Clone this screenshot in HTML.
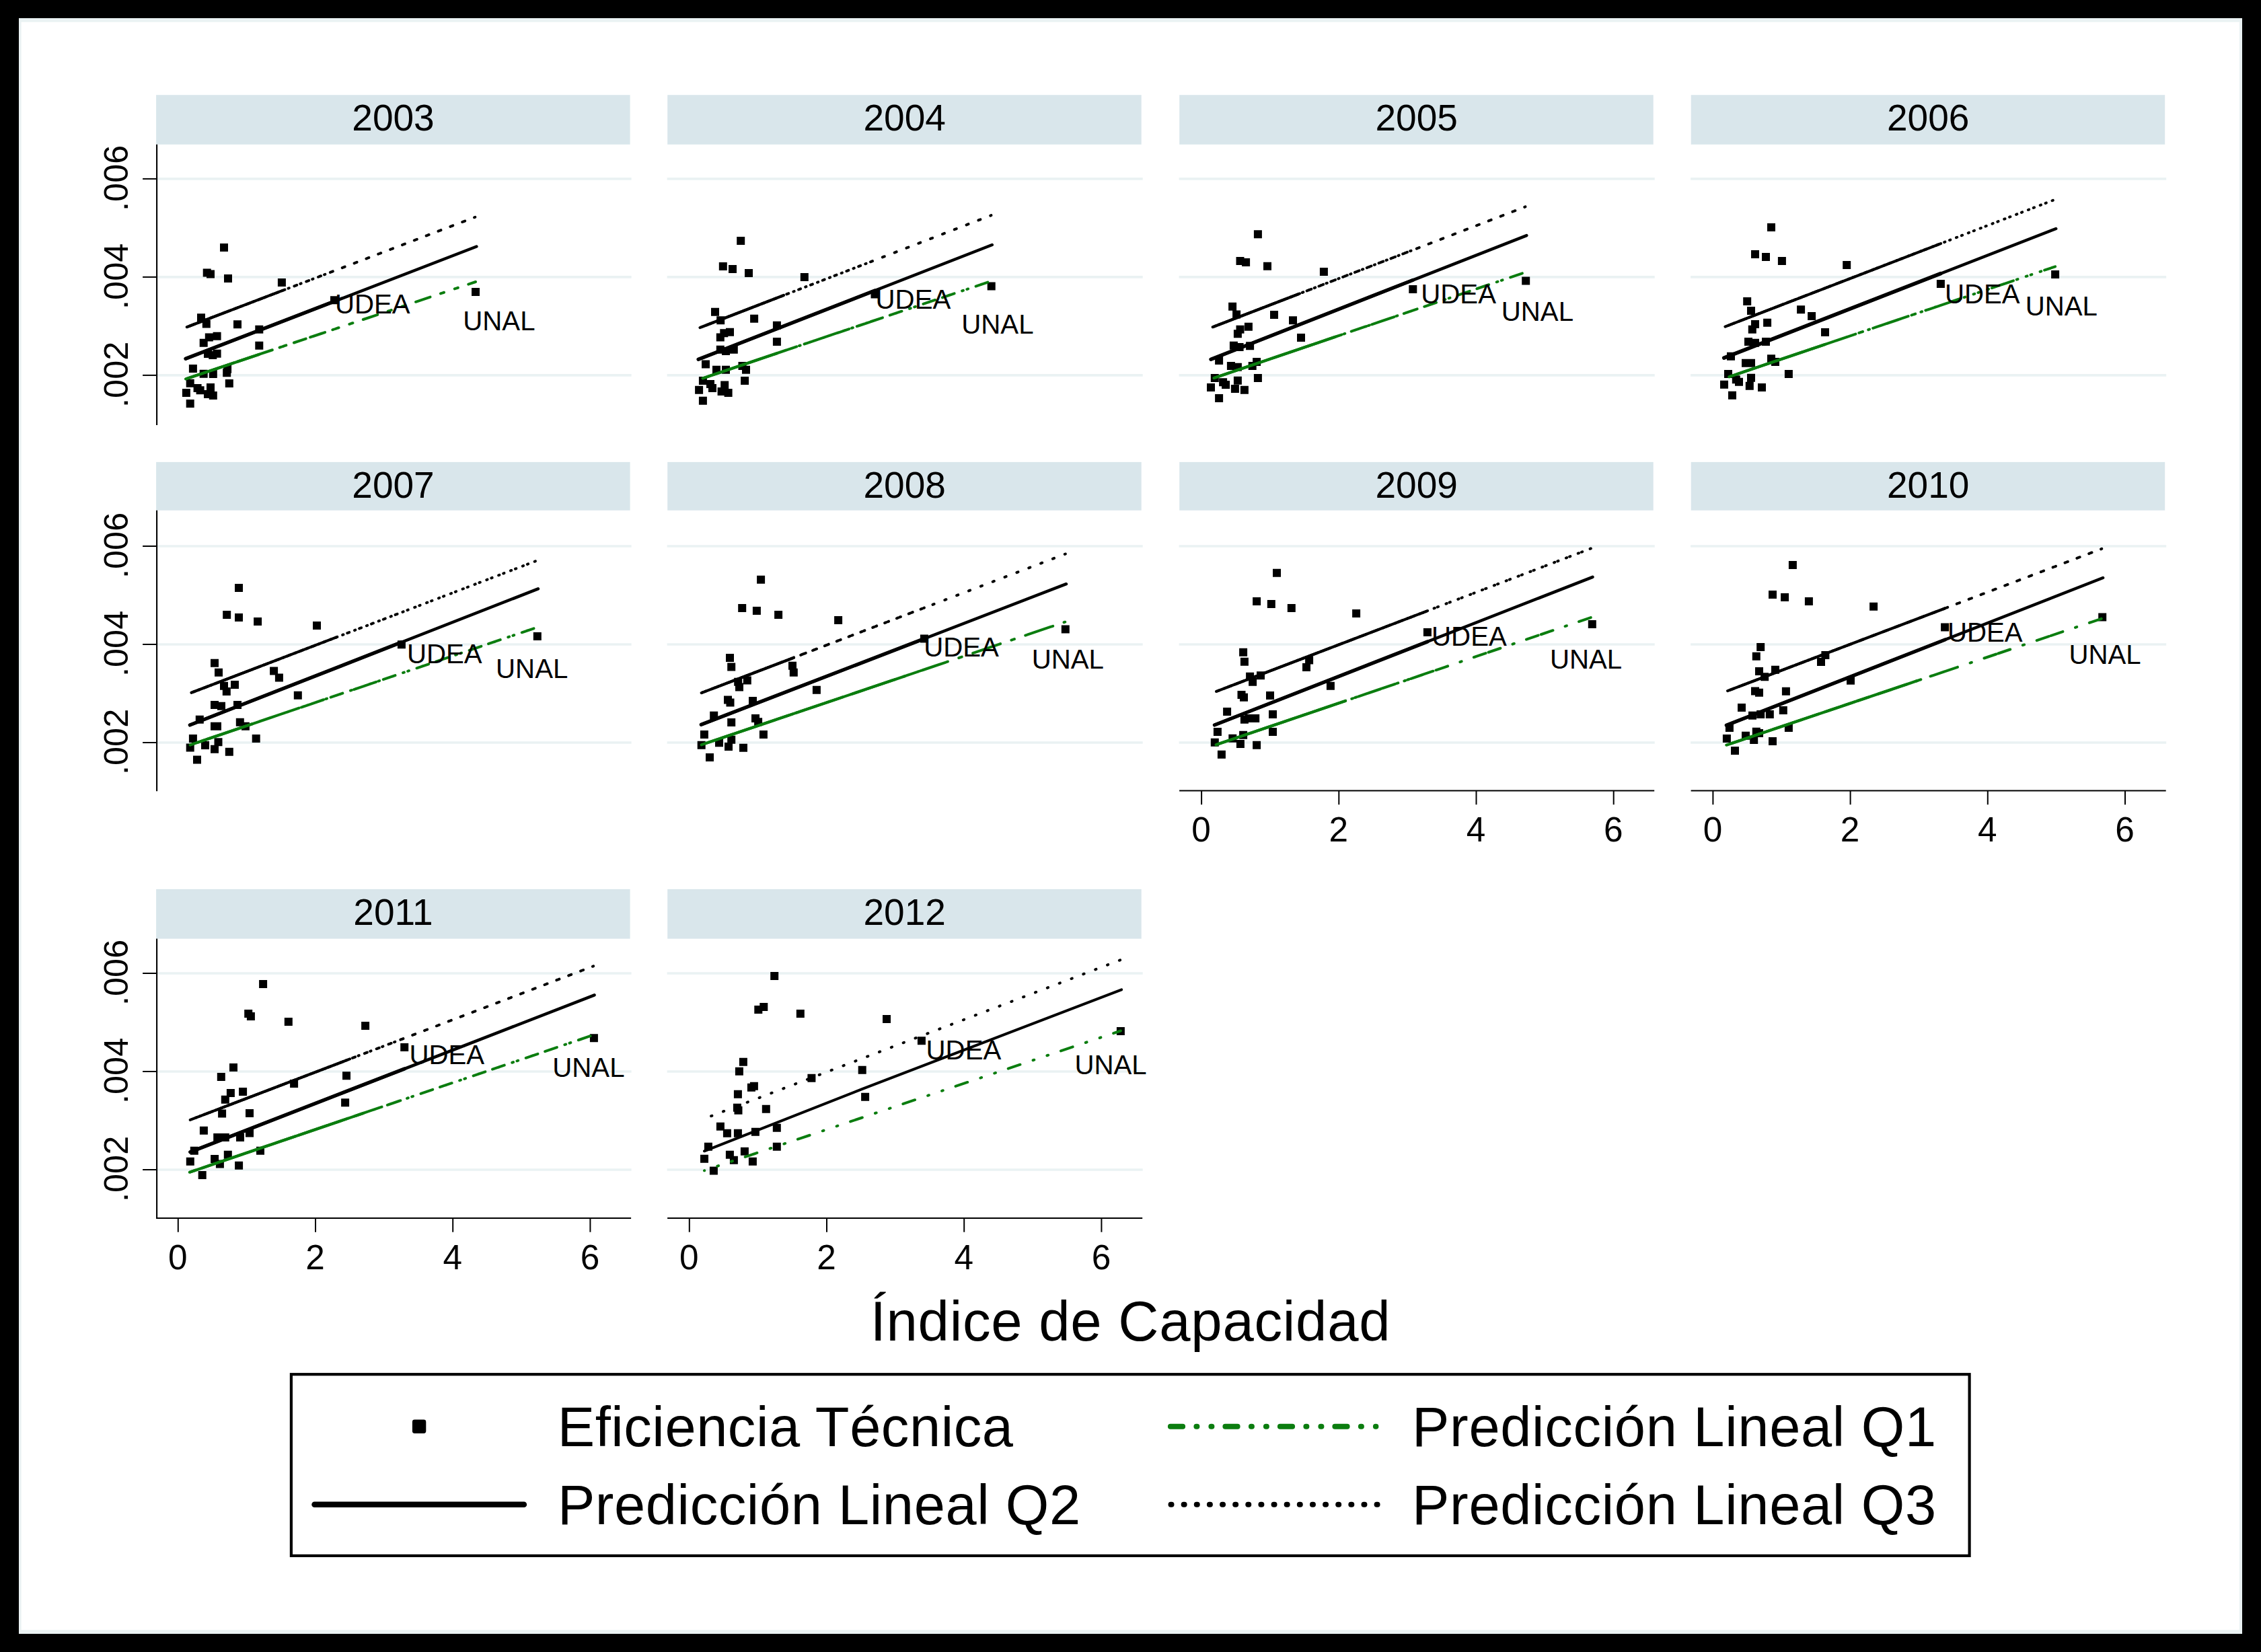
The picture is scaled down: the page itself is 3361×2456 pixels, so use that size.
<!DOCTYPE html><html><head><meta charset="utf-8"><title>Indice de Capacidad</title>
<style>html,body{margin:0;padding:0;background:#000;}svg{display:block;}text{font-family:"Liberation Sans", Arial, Helvetica, sans-serif;fill:#000;}</style></head><body>
<svg width="3361" height="2456" viewBox="0 0 3361 2456">
<rect x="0" y="0" width="3361" height="2456" fill="#000"/>
<rect x="28" y="27" width="3305" height="2402" fill="#eaf2f3"/>
<rect x="31.6" y="32.7" width="3297.2" height="2390.5" fill="#fff"/>
<g id="p2003">
<rect x="232.1" y="141.2" width="704.5" height="73.6" fill="#d9e6eb"/>
<text x="584.5" y="193.8" font-size="55" text-anchor="middle">2003</text>
<line x1="233.8" x2="938.6" y1="265.9" y2="265.9" stroke="#eaf2f3" stroke-width="3.6"/>
<line x1="233.8" x2="938.6" y1="411.9" y2="411.9" stroke="#eaf2f3" stroke-width="3.6"/>
<line x1="233.8" x2="938.6" y1="557.9" y2="557.9" stroke="#eaf2f3" stroke-width="3.6"/>
<line x1="233.1" x2="233.1" y1="214.8" y2="632.1" stroke="#000" stroke-width="2.1"/>
<line x1="212.1" x2="232.3" y1="265.9" y2="265.9" stroke="#000" stroke-width="2"/>
<text transform="translate(190.0,264.8) rotate(-90)" font-size="50.5" text-anchor="middle">.006</text>
<line x1="212.1" x2="232.3" y1="411.9" y2="411.9" stroke="#000" stroke-width="2"/>
<text transform="translate(190.0,410.8) rotate(-90)" font-size="50.5" text-anchor="middle">.004</text>
<line x1="212.1" x2="232.3" y1="557.9" y2="557.9" stroke="#000" stroke-width="2"/>
<text transform="translate(190.0,556.8) rotate(-90)" font-size="50.5" text-anchor="middle">.002</text>
<path d="M327.0 362.1h12v12h-12zM301.7 399.4h12v12h-12zM307.0 401.5h12v12h-12zM333.0 407.9h12v12h-12zM412.9 413.9h12v12h-12zM293.0 466.2h12v12h-12zM300.8 475.6h12v12h-12zM347.0 476.2h12v12h-12zM379.3 483.8h12v12h-12zM304.8 495.6h12v12h-12zM316.6 493.8h12v12h-12zM296.7 503.8h12v12h-12zM379.3 507.8h12v12h-12zM303.0 520.1h12v12h-12zM310.3 521.9h12v12h-12zM316.6 519.7h12v12h-12zM280.9 541.9h12v12h-12zM296.7 549.7h12v12h-12zM310.8 550.1h12v12h-12zM332.1 542.8h12v12h-12zM331.2 548.3h12v12h-12zM276.7 563.7h12v12h-12zM334.8 564.1h12v12h-12zM270.9 577.9h12v12h-12zM287.6 571.0h12v12h-12zM291.6 574.2h12v12h-12zM307.0 570.0h12v12h-12zM303.0 580.0h12v12h-12zM310.8 581.9h12v12h-12zM276.7 594.0h12v12h-12zM491.0 440.2h12v12h-12zM701.0 428.0h12v12h-12z" fill="#000"/>
<path d="M293.6 557.5 L353.0 537.6 L338.1 542.6 L313.0 551.0 L299.0 555.7 L286.9 559.7 L322.6 547.8 L337.2 542.9 L385.3 526.8 L385.3 526.8 L306.8 553.1 L282.7 561.2 L322.6 547.8 L497.0 489.4 L340.8 541.7 L707.0 419.0 L302.7 554.5 L297.6 556.2 L316.8 549.7 L316.3 549.9 L309.0 552.3 L302.7 554.5 L276.9 563.1 L310.8 551.7 L313.0 551.0 L309.0 552.3 L307.7 552.8 L282.7 561.2 L418.9 515.5 L316.8 549.7 L339.0 542.3 L333.0 544.3" fill="none" stroke="#0b7d0f" stroke-width="4.0" stroke-linecap="round" stroke-linejoin="round" stroke-dasharray="18.7 20.2 1.8 20.2 1.8 19.8" stroke-dashoffset="45.07"/>
<path d="M276.0 563.4 L385.0 526.9" fill="none" stroke="#0b7d0f" stroke-width="4.2" stroke-linecap="round"/>
<path d="M276.0 533.3 L708.4 366.5" fill="none" stroke="#000" stroke-width="4.5" stroke-linecap="round"/>
<path d="M276.0 533.3 L497.0 448.0" fill="none" stroke="#000" stroke-width="5.3" stroke-linecap="round"/>
<path d="M293.6 480.2 L353.0 457.5 L338.1 463.2 L313.0 472.8 L299.0 478.1 L286.9 482.7 L322.6 469.1 L337.2 463.5 L385.3 445.2 L385.3 445.2 L306.8 475.1 L282.7 484.3 L322.6 469.1 L497.0 402.6 L340.8 462.2 L707.0 322.5 L302.7 476.7 L297.6 478.6 L316.8 471.3 L316.3 471.5 L309.0 474.3 L302.7 476.7 L276.9 486.5 L310.8 473.6 L313.0 472.8 L309.0 474.3 L307.7 474.8 L282.7 484.3 L418.9 432.4 L316.8 471.3 L339.0 462.9 L333.0 465.1" fill="none" stroke="#000" stroke-width="4.0" stroke-linecap="round" stroke-linejoin="round" stroke-dasharray="1.3 17.8" stroke-dashoffset="10.20"/>
<path d="M277.8 486.2 L420.0 431.9" fill="none" stroke="#000" stroke-width="4.2" stroke-linecap="round"/>
<text x="498.0" y="465.7" font-size="40.2">UDEA</text>
<text x="688.3" y="490.9" font-size="40.2">UNAL</text>
</g>
<g id="p2004">
<rect x="992.2" y="141.2" width="704.5" height="73.6" fill="#d9e6eb"/>
<text x="1344.7" y="193.8" font-size="55" text-anchor="middle">2004</text>
<line x1="991.6" x2="1698.7" y1="265.9" y2="265.9" stroke="#eaf2f3" stroke-width="3.6"/>
<line x1="991.6" x2="1698.7" y1="411.9" y2="411.9" stroke="#eaf2f3" stroke-width="3.6"/>
<line x1="991.6" x2="1698.7" y1="557.9" y2="557.9" stroke="#eaf2f3" stroke-width="3.6"/>
<path d="M1095.2 352.1h12v12h-12zM1068.8 389.9h12v12h-12zM1083.0 393.9h12v12h-12zM1107.0 399.9h12v12h-12zM1189.8 406.1h12v12h-12zM1057.0 457.8h12v12h-12zM1065.2 470.2h12v12h-12zM1115.1 467.8h12v12h-12zM1148.9 477.8h12v12h-12zM1070.3 489.2h12v12h-12zM1079.0 487.8h12v12h-12zM1064.8 495.6h12v12h-12zM1148.9 502.0h12v12h-12zM1064.8 513.8h12v12h-12zM1073.0 516.1h12v12h-12zM1084.8 513.8h12v12h-12zM1043.0 535.5h12v12h-12zM1059.0 543.7h12v12h-12zM1073.0 543.7h12v12h-12zM1097.5 537.9h12v12h-12zM1103.0 543.7h12v12h-12zM1038.9 560.1h12v12h-12zM1101.1 560.1h12v12h-12zM1033.1 573.7h12v12h-12zM1050.0 565.0h12v12h-12zM1053.0 571.0h12v12h-12zM1071.2 566.4h12v12h-12zM1066.6 576.0h12v12h-12zM1076.6 577.9h12v12h-12zM1038.9 589.7h12v12h-12zM1294.5 431.5h12v12h-12zM1467.7 419.6h12v12h-12z" fill="#000"/>
<path d="M1082.6 549.6 L1044.9 562.3 L1090.8 546.8 L1065.0 555.5 L1103.5 542.5 L1076.3 551.7 L1121.1 536.6 L1056.0 558.5 L1063.0 556.2 L1079.0 550.8 L1079.0 550.8 L1154.9 525.2 L1154.9 525.2 L1089.0 547.4 L1101.2 543.3 L1473.7 417.8 L1085.0 548.8 L1071.2 553.4 L1109.0 540.7 L1070.8 553.5 L1059.0 557.5 L1049.0 560.9 L1107.1 541.3 L1195.8 511.4 L1300.5 476.2 L1077.2 551.4 L1072.6 552.9 L1113.0 539.3 L1070.8 553.5 L1074.8 552.2 L1039.1 564.2 L1044.9 562.3" fill="none" stroke="#0b7d0f" stroke-width="4.0" stroke-linecap="round" stroke-linejoin="round" stroke-dasharray="18.7 20.2 1.8 20.2 1.8 19.8" stroke-dashoffset="51.28"/>
<path d="M1044.5 562.4 L1155.0 525.2" fill="none" stroke="#0b7d0f" stroke-width="4.2" stroke-linecap="round"/>
<path d="M1038.1 534.3 L1474.8 364.0" fill="none" stroke="#000" stroke-width="4.5" stroke-linecap="round"/>
<path d="M1038.1 534.3 L1300.5 432.0" fill="none" stroke="#000" stroke-width="5.3" stroke-linecap="round"/>
<path d="M1082.6 470.8 L1044.9 485.4 L1090.8 467.7 L1065.0 477.6 L1103.5 462.8 L1076.3 473.2 L1121.1 456.0 L1056.0 481.1 L1063.0 478.4 L1079.0 472.2 L1079.0 472.2 L1154.9 442.9 L1154.9 442.9 L1089.0 468.3 L1101.2 463.6 L1473.7 320.0 L1085.0 469.9 L1071.2 475.2 L1109.0 460.6 L1070.8 475.4 L1059.0 479.9 L1049.0 483.8 L1107.1 461.4 L1195.8 427.2 L1300.5 386.8 L1077.2 472.9 L1072.6 474.7 L1113.0 459.1 L1070.8 475.4 L1074.8 473.8 L1039.1 487.6 L1044.9 485.4" fill="none" stroke="#000" stroke-width="4.0" stroke-linecap="round" stroke-linejoin="round" stroke-dasharray="1.3 17.8" stroke-dashoffset="4.96"/>
<path d="M1042.7 486.2 L1165.0 439.0" fill="none" stroke="#000" stroke-width="4.2" stroke-linecap="round"/>
<text x="1301.6" y="459.4" font-size="40.2">UDEA</text>
<text x="1429.3" y="495.7" font-size="40.2">UNAL</text>
</g>
<g id="p2005">
<rect x="1753.2" y="141.2" width="704.5" height="73.6" fill="#d9e6eb"/>
<text x="2105.7" y="193.8" font-size="55" text-anchor="middle">2005</text>
<line x1="1752.6" x2="2459.7" y1="265.9" y2="265.9" stroke="#eaf2f3" stroke-width="3.6"/>
<line x1="1752.6" x2="2459.7" y1="411.9" y2="411.9" stroke="#eaf2f3" stroke-width="3.6"/>
<line x1="1752.6" x2="2459.7" y1="557.9" y2="557.9" stroke="#eaf2f3" stroke-width="3.6"/>
<path d="M1863.9 342.2h12v12h-12zM1837.5 382.1h12v12h-12zM1846.1 383.9h12v12h-12zM1878.0 389.7h12v12h-12zM1961.9 398.1h12v12h-12zM1826.1 449.8h12v12h-12zM1832.1 461.6h12v12h-12zM1888.0 462.0h12v12h-12zM1916.0 470.2h12v12h-12zM1849.9 479.8h12v12h-12zM1837.5 483.8h12v12h-12zM1833.9 490.2h12v12h-12zM1928.0 496.1h12v12h-12zM1827.9 507.8h12v12h-12zM1836.6 510.1h12v12h-12zM1852.1 508.3h12v12h-12zM1806.1 530.1h12v12h-12zM1823.9 537.9h12v12h-12zM1833.9 539.7h12v12h-12zM1862.1 531.9h12v12h-12zM1855.7 537.9h12v12h-12zM1799.8 556.1h12v12h-12zM1863.9 556.1h12v12h-12zM1794.0 570.0h12v12h-12zM1812.1 562.2h12v12h-12zM1816.1 565.9h12v12h-12zM1833.9 559.7h12v12h-12zM1829.9 571.9h12v12h-12zM1843.9 573.7h12v12h-12zM1806.1 586.0h12v12h-12zM2094.3 424.0h12v12h-12zM2262.2 411.5h12v12h-12z" fill="#000"/>
<path d="M1869.9 539.9 L1894.0 531.7 L1868.1 540.5 L1838.1 550.7 L1832.1 552.7 L1812.1 559.5 L1869.9 539.9 L1822.1 556.1 L1858.1 543.9 L1967.9 506.6 L1839.9 550.1 L1839.9 550.1 L1829.9 553.5 L1842.6 549.2 L1843.5 548.8 L2268.2 404.5 L1805.8 561.7 L1800.0 563.6 L1934.0 518.1 L1849.9 546.7 L1835.9 551.4 L2100.3 461.6 L1852.1 545.9 L1839.9 550.1 L1833.9 552.1 L1884.0 535.1 L1922.0 522.2 L1855.9 544.6 L1861.7 542.7 L1812.1 559.5 L1818.1 557.5 L1843.5 548.8" fill="none" stroke="#0b7d0f" stroke-width="4.0" stroke-linecap="round" stroke-linejoin="round" stroke-dasharray="18.7 20.2 1.8 20.2 1.8 19.8" stroke-dashoffset="28.20"/>
<path d="M1804.5 562.1 L1985.0 500.8" fill="none" stroke="#0b7d0f" stroke-width="4.2" stroke-linecap="round"/>
<path d="M1800.0 534.3 L2269.3 350.1" fill="none" stroke="#000" stroke-width="4.5" stroke-linecap="round"/>
<path d="M1800.0 534.3 L2100.3 416.4" fill="none" stroke="#000" stroke-width="5.3" stroke-linecap="round"/>
<path d="M1869.9 460.3 L1894.0 451.1 L1868.1 461.0 L1838.1 472.6 L1832.1 474.9 L1812.1 482.6 L1869.9 460.3 L1822.1 478.7 L1858.1 464.9 L1967.9 422.6 L1839.9 471.9 L1839.9 471.9 L1829.9 475.7 L1842.6 470.8 L1843.5 470.5 L2268.2 307.1 L1805.8 485.0 L1800.0 487.2 L1934.0 435.7 L1849.9 468.0 L1835.9 473.4 L2100.3 371.7 L1852.1 467.2 L1839.9 471.9 L1833.9 474.2 L1884.0 454.9 L1922.0 440.3 L1855.9 465.7 L1861.7 463.5 L1812.1 482.6 L1818.1 480.3 L1843.5 470.5" fill="none" stroke="#000" stroke-width="4.0" stroke-linecap="round" stroke-linejoin="round" stroke-dasharray="1.3 17.8" stroke-dashoffset="13.99"/>
<path d="M1802.7 486.2 L1930.0 437.2" fill="none" stroke="#000" stroke-width="4.2" stroke-linecap="round"/>
<text x="2112.3" y="451.3" font-size="40.2">UDEA</text>
<text x="2231.8" y="477.3" font-size="40.2">UNAL</text>
</g>
<g id="p2006">
<rect x="2513.7" y="141.2" width="704.5" height="73.6" fill="#d9e6eb"/>
<text x="2866.2" y="193.8" font-size="55" text-anchor="middle">2006</text>
<line x1="2513.1" x2="3220.2" y1="265.9" y2="265.9" stroke="#eaf2f3" stroke-width="3.6"/>
<line x1="2513.1" x2="3220.2" y1="411.9" y2="411.9" stroke="#eaf2f3" stroke-width="3.6"/>
<line x1="2513.1" x2="3220.2" y1="557.9" y2="557.9" stroke="#eaf2f3" stroke-width="3.6"/>
<path d="M2627.0 332.1h12v12h-12zM2603.0 372.1h12v12h-12zM2619.0 376.1h12v12h-12zM2642.9 382.1h12v12h-12zM2739.2 388.1h12v12h-12zM2591.2 442.0h12v12h-12zM2597.0 456.0h12v12h-12zM2671.1 454.2h12v12h-12zM2687.1 464.1h12v12h-12zM2621.1 473.8h12v12h-12zM2603.0 475.9h12v12h-12zM2598.8 483.8h12v12h-12zM2707.0 487.9h12v12h-12zM2593.0 501.9h12v12h-12zM2603.0 503.7h12v12h-12zM2619.0 501.9h12v12h-12zM2567.0 523.7h12v12h-12zM2589.0 533.7h12v12h-12zM2597.0 533.7h12v12h-12zM2627.0 527.3h12v12h-12zM2633.0 531.9h12v12h-12zM2563.0 550.0h12v12h-12zM2652.9 550.0h12v12h-12zM2557.0 565.8h12v12h-12zM2574.8 558.2h12v12h-12zM2579.0 561.8h12v12h-12zM2597.0 555.8h12v12h-12zM2594.8 567.8h12v12h-12zM2613.0 570.0h12v12h-12zM2569.0 581.8h12v12h-12zM2878.9 416.1h12v12h-12zM3049.1 401.9h12v12h-12z" fill="#000"/>
<path d="M2625.0 541.7 L2595.0 551.9 L2599.0 550.5 L2580.8 556.7 L2639.0 537.0 L2633.0 539.0 L2585.0 555.2 L2693.1 518.7 L2609.0 547.1 L2600.8 549.9 L2609.0 547.1 L2677.1 524.1 L2603.0 549.1 L2627.1 541.0 L2563.0 562.7 L3055.1 396.3 L2625.0 541.7 L2604.8 548.5 L2569.0 560.6 L2609.0 547.1 L2745.2 501.1 L2658.9 530.3 L2619.0 543.7 L2603.0 549.1 L2575.0 558.6 L2573.0 559.3 L2713.0 512.0 L2633.0 539.0 L2648.9 533.6 L2597.2 551.1 L2884.9 453.9 L2603.0 549.1" fill="none" stroke="#0b7d0f" stroke-width="4.0" stroke-linecap="round" stroke-linejoin="round" stroke-dasharray="18.7 20.2 1.8 20.2 1.8 19.8" stroke-dashoffset="15.46"/>
<path d="M2570.9 560.0 L2713.0 512.0" fill="none" stroke="#0b7d0f" stroke-width="4.2" stroke-linecap="round"/>
<path d="M2562.7 532.1 L3056.2 340.0" fill="none" stroke="#000" stroke-width="4.5" stroke-linecap="round"/>
<path d="M2562.7 532.1 L2884.9 406.7" fill="none" stroke="#000" stroke-width="5.6" stroke-linecap="round"/>
<path d="M2625.0 462.3 L2595.0 473.8 L2599.0 472.3 L2580.8 479.3 L2639.0 456.9 L2633.0 459.2 L2585.0 477.7 L2693.1 436.0 L2609.0 468.4 L2600.8 471.6 L2609.0 468.4 L2677.1 442.2 L2603.0 470.8 L2627.1 461.5 L2563.0 486.2 L3055.1 296.5 L2625.0 462.3 L2604.8 470.1 L2569.0 483.9 L2609.0 468.4 L2745.2 415.9 L2658.9 449.2 L2619.0 464.6 L2603.0 470.8 L2575.0 481.6 L2573.0 482.3 L2713.0 428.4 L2633.0 459.2 L2648.9 453.1 L2597.2 473.0 L2884.9 362.1 L2603.0 470.8" fill="none" stroke="#000" stroke-width="4.0" stroke-linecap="round" stroke-linejoin="round" stroke-dasharray="1.3 17.8" stroke-dashoffset="15.04"/>
<path d="M2564.5 485.6 L2885.0 362.1" fill="none" stroke="#000" stroke-width="4.2" stroke-linecap="round"/>
<text x="2890.9" y="450.9" font-size="40.2">UDEA</text>
<text x="3010.7" y="469.3" font-size="40.2">UNAL</text>
</g>
<g id="p2007">
<rect x="232.1" y="686.9" width="704.5" height="71.9" fill="#d9e6eb"/>
<text x="584.5" y="739.5" font-size="55" text-anchor="middle">2007</text>
<line x1="233.8" x2="938.6" y1="812.0" y2="812.0" stroke="#eaf2f3" stroke-width="3.6"/>
<line x1="233.8" x2="938.6" y1="958.0" y2="958.0" stroke="#eaf2f3" stroke-width="3.6"/>
<line x1="233.8" x2="938.6" y1="1104.0" y2="1104.0" stroke="#eaf2f3" stroke-width="3.6"/>
<line x1="233.1" x2="233.1" y1="758.8" y2="1176.3" stroke="#000" stroke-width="2.1"/>
<line x1="212.1" x2="232.3" y1="812.0" y2="812.0" stroke="#000" stroke-width="2"/>
<text transform="translate(190.0,810.9) rotate(-90)" font-size="50.5" text-anchor="middle">.006</text>
<line x1="212.1" x2="232.3" y1="958.0" y2="958.0" stroke="#000" stroke-width="2"/>
<text transform="translate(190.0,956.9) rotate(-90)" font-size="50.5" text-anchor="middle">.004</text>
<line x1="212.1" x2="232.3" y1="1104.0" y2="1104.0" stroke="#000" stroke-width="2"/>
<text transform="translate(190.0,1102.9) rotate(-90)" font-size="50.5" text-anchor="middle">.002</text>
<path d="M349.0 868.0h12v12h-12zM331.2 907.9h12v12h-12zM349.0 912.1h12v12h-12zM377.1 917.9h12v12h-12zM465.0 923.9h12v12h-12zM313.0 979.8h12v12h-12zM319.0 993.8h12v12h-12zM401.1 991.6h12v12h-12zM408.9 1001.6h12v12h-12zM343.0 1012.0h12v12h-12zM327.0 1013.8h12v12h-12zM330.8 1022.0h12v12h-12zM436.8 1027.8h12v12h-12zM313.0 1041.9h12v12h-12zM323.0 1043.7h12v12h-12zM347.0 1041.9h12v12h-12zM290.8 1063.7h12v12h-12zM313.0 1073.7h12v12h-12zM317.0 1073.7h12v12h-12zM350.8 1067.7h12v12h-12zM358.9 1073.7h12v12h-12zM280.9 1091.9h12v12h-12zM374.7 1091.9h12v12h-12zM276.7 1105.5h12v12h-12zM299.0 1101.9h12v12h-12zM318.5 1097.3h12v12h-12zM313.0 1107.8h12v12h-12zM334.8 1111.8h12v12h-12zM287.0 1123.6h12v12h-12zM590.9 952.2h12v12h-12zM792.8 940.0h12v12h-12z" fill="#000"/>
<path d="M596.9 1001.0 L353.0 1083.7 L383.1 1073.5 L333.0 1090.4 L337.2 1089.0 L380.7 1074.3 L319.0 1095.2 L356.8 1082.4 L407.1 1065.3 L319.0 1095.2 L319.0 1095.2 L323.0 1093.8 L305.0 1099.9 L282.7 1107.5 L442.8 1053.2 L798.8 932.5 L364.9 1079.6 L336.8 1089.2 L286.9 1106.1 L319.0 1095.2 L355.0 1083.0 L340.8 1087.8 L471.0 1043.7 L349.0 1085.0 L325.0 1093.2 L355.0 1083.0 L293.0 1104.0 L324.5 1093.3 L414.9 1062.7 L296.8 1102.7 L329.0 1091.8" fill="none" stroke="#0b7d0f" stroke-width="4.0" stroke-linecap="round" stroke-linejoin="round" stroke-dasharray="18.7 20.2 1.8 20.2 1.8 19.8" stroke-dashoffset="26.31"/>
<path d="M282.7 1107.5 L375.0 1076.2" fill="none" stroke="#0b7d0f" stroke-width="4.2" stroke-linecap="round"/>
<path d="M282.3 1077.9 L799.9 875.4" fill="none" stroke="#000" stroke-width="4.5" stroke-linecap="round"/>
<path d="M282.3 1077.9 L596.9 954.8" fill="none" stroke="#000" stroke-width="5.3" stroke-linecap="round"/>
<path d="M596.9 910.4 L353.0 1003.6 L383.1 992.1 L333.0 1011.3 L337.2 1009.7 L380.7 993.0 L319.0 1016.6 L356.8 1002.2 L407.1 982.9 L319.0 1016.6 L319.0 1016.6 L323.0 1015.1 L305.0 1022.0 L282.7 1030.5 L442.8 969.3 L798.8 833.2 L364.9 999.1 L336.8 1009.8 L286.9 1028.9 L319.0 1016.6 L355.0 1002.9 L340.8 1008.3 L471.0 958.5 L349.0 1005.1 L325.0 1014.3 L355.0 1002.9 L293.0 1026.6 L324.5 1014.5 L414.9 980.0 L296.8 1025.1 L329.0 1012.8" fill="none" stroke="#000" stroke-width="4.0" stroke-linecap="round" stroke-linejoin="round" stroke-dasharray="1.3 17.8" stroke-dashoffset="12.32"/>
<path d="M284.5 1029.8 L500.0 947.4" fill="none" stroke="#000" stroke-width="4.2" stroke-linecap="round"/>
<text x="604.9" y="986.2" font-size="40.2">UDEA</text>
<text x="737.1" y="1007.7" font-size="40.2">UNAL</text>
</g>
<g id="p2008">
<rect x="992.2" y="686.9" width="704.5" height="71.9" fill="#d9e6eb"/>
<text x="1344.7" y="739.5" font-size="55" text-anchor="middle">2008</text>
<line x1="991.6" x2="1698.7" y1="812.0" y2="812.0" stroke="#eaf2f3" stroke-width="3.6"/>
<line x1="991.6" x2="1698.7" y1="958.0" y2="958.0" stroke="#eaf2f3" stroke-width="3.6"/>
<line x1="991.6" x2="1698.7" y1="1104.0" y2="1104.0" stroke="#eaf2f3" stroke-width="3.6"/>
<path d="M1125.1 855.8h12v12h-12zM1097.2 897.9h12v12h-12zM1118.9 902.1h12v12h-12zM1151.1 907.9h12v12h-12zM1240.1 916.1h12v12h-12zM1079.0 972.0h12v12h-12zM1081.2 985.6h12v12h-12zM1172.0 983.8h12v12h-12zM1173.8 993.8h12v12h-12zM1104.8 1005.6h12v12h-12zM1091.2 1007.8h12v12h-12zM1093.0 1015.6h12v12h-12zM1207.9 1019.8h12v12h-12zM1076.0 1034.5h12v12h-12zM1079.5 1038.5h12v12h-12zM1113.0 1035.9h12v12h-12zM1055.2 1057.7h12v12h-12zM1081.2 1067.9h12v12h-12zM1117.0 1061.9h12v12h-12zM1121.1 1067.3h12v12h-12zM1040.9 1086.0h12v12h-12zM1128.9 1086.0h12v12h-12zM1036.7 1101.8h12v12h-12zM1063.0 1098.2h12v12h-12zM1081.2 1093.7h12v12h-12zM1077.0 1104.0h12v12h-12zM1099.0 1105.8h12v12h-12zM1049.0 1120.0h12v12h-12zM1367.9 943.4h12v12h-12zM1577.8 929.6h12v12h-12z" fill="#000"/>
<path d="M1124.9 1079.5 L1085.5 1092.8 L1110.8 1084.3 L1178.0 1061.6 L1061.2 1101.1 L1213.9 1049.5 L1131.1 1077.4 L1246.1 1038.6 L1097.2 1088.9 L1103.2 1086.9 L1042.7 1107.3 L1083.0 1093.7 L1119.0 1081.5 L1069.0 1098.4 L1583.8 924.5 L1085.0 1093.0 L1105.0 1086.3 L1157.1 1068.7 L1087.2 1092.3 L1373.9 995.4 L1127.1 1078.8 L1082.0 1094.0 L1087.2 1092.3 L1046.9 1105.9 L1055.0 1103.1 L1179.8 1061.0 L1087.2 1092.3 L1123.0 1080.2 L1134.9 1076.2 L1099.0 1088.3" fill="none" stroke="#0b7d0f" stroke-width="4.0" stroke-linecap="round" stroke-linejoin="round" stroke-dasharray="18.7 20.2 1.8 20.2 1.8 19.8" stroke-dashoffset="72.32"/>
<path d="M1042.7 1107.3 L1345.0 1005.2" fill="none" stroke="#0b7d0f" stroke-width="4.2" stroke-linecap="round"/>
<path d="M1042.3 1077.3 L1585.0 868.2" fill="none" stroke="#000" stroke-width="4.5" stroke-linecap="round"/>
<path d="M1042.3 1077.3 L1373.9 949.5" fill="none" stroke="#000" stroke-width="5.3" stroke-linecap="round"/>
<path d="M1124.9 998.7 L1085.5 1013.8 L1110.8 1004.1 L1178.0 978.4 L1061.2 1023.0 L1213.9 964.7 L1131.1 996.3 L1246.1 952.4 L1097.2 1009.3 L1103.2 1007.0 L1042.7 1030.1 L1083.0 1014.7 L1119.0 1001.0 L1069.0 1020.1 L1583.8 823.5 L1085.0 1013.9 L1105.0 1006.3 L1157.1 986.4 L1087.2 1013.1 L1373.9 903.6 L1127.1 997.9 L1082.0 1015.1 L1087.2 1013.1 L1046.9 1028.5 L1055.0 1025.4 L1179.8 977.8 L1087.2 1013.1 L1123.0 999.4 L1134.9 994.9 L1099.0 1008.6" fill="none" stroke="#000" stroke-width="4.0" stroke-linecap="round" stroke-linejoin="round" stroke-dasharray="1.3 17.8" stroke-dashoffset="9.05"/>
<path d="M1042.7 1030.1 L1180.0 977.7" fill="none" stroke="#000" stroke-width="4.2" stroke-linecap="round"/>
<text x="1373.2" y="976.3" font-size="40.2">UDEA</text>
<text x="1533.7" y="994.2" font-size="40.2">UNAL</text>
</g>
<g id="p2009">
<rect x="1753.2" y="686.9" width="704.5" height="71.9" fill="#d9e6eb"/>
<text x="2105.7" y="739.5" font-size="55" text-anchor="middle">2009</text>
<line x1="1752.6" x2="2459.7" y1="812.0" y2="812.0" stroke="#eaf2f3" stroke-width="3.6"/>
<line x1="1752.6" x2="2459.7" y1="958.0" y2="958.0" stroke="#eaf2f3" stroke-width="3.6"/>
<line x1="1752.6" x2="2459.7" y1="1104.0" y2="1104.0" stroke="#eaf2f3" stroke-width="3.6"/>
<line x1="1753.1" x2="2459.2" y1="1175.5" y2="1175.5" stroke="#000" stroke-width="2.1"/>
<line x1="1786.1" x2="1786.1" y1="1175.5" y2="1196.2" stroke="#000" stroke-width="2"/>
<text x="1785.6" y="1250.7" font-size="51.3" text-anchor="middle">0</text>
<line x1="1990.3" x2="1990.3" y1="1175.5" y2="1196.2" stroke="#000" stroke-width="2"/>
<text x="1989.8" y="1250.7" font-size="51.3" text-anchor="middle">2</text>
<line x1="2194.5" x2="2194.5" y1="1175.5" y2="1196.2" stroke="#000" stroke-width="2"/>
<text x="2194.0" y="1250.7" font-size="51.3" text-anchor="middle">4</text>
<line x1="2398.7" x2="2398.7" y1="1175.5" y2="1196.2" stroke="#000" stroke-width="2"/>
<text x="2398.2" y="1250.7" font-size="51.3" text-anchor="middle">6</text>
<path d="M1892.0 845.8h12v12h-12zM1862.1 887.9h12v12h-12zM1883.8 892.1h12v12h-12zM1913.8 897.9h12v12h-12zM2010.1 906.1h12v12h-12zM1842.1 963.8h12v12h-12zM1843.9 977.8h12v12h-12zM1940.1 975.6h12v12h-12zM1936.0 986.0h12v12h-12zM1868.0 998.3h12v12h-12zM1852.1 999.8h12v12h-12zM1856.1 1007.8h12v12h-12zM1971.9 1013.8h12v12h-12zM1839.5 1027.0h12v12h-12zM1843.0 1030.8h12v12h-12zM1882.0 1027.9h12v12h-12zM1818.1 1051.9h12v12h-12zM1843.9 1063.7h12v12h-12zM1850.3 1061.9h12v12h-12zM1860.2 1061.9h12v12h-12zM1886.0 1055.9h12v12h-12zM1803.9 1081.9h12v12h-12zM1886.0 1081.9h12v12h-12zM1799.8 1097.8h12v12h-12zM1826.3 1091.8h12v12h-12zM1842.1 1086.8h12v12h-12zM1837.9 1100.0h12v12h-12zM1862.1 1101.8h12v12h-12zM1809.9 1115.8h12v12h-12zM2115.9 934.0h12v12h-12zM2360.8 922.0h12v12h-12z" fill="#000"/>
<path d="M1849.0 1093.2 L1898.0 1076.6 L1809.9 1106.5 L1892.0 1078.6 L1824.1 1101.7 L1858.1 1090.2 L1919.8 1069.2 L1848.1 1093.5 L1868.1 1086.8 L1862.1 1088.8 L1815.9 1104.5 L1848.1 1093.5 L1832.3 1098.9 L2121.9 1000.6 L1856.3 1090.8 L2366.8 917.4 L1888.0 1080.0 L1868.1 1086.8 L1977.9 1049.5 L1866.2 1087.4 L1942.0 1061.7 L1843.9 1095.0 L1849.9 1092.9 L1849.9 1092.9 L1946.1 1060.3 L1845.5 1094.4 L1805.8 1107.9 L1874.0 1084.8 L2016.1 1036.5 L1889.8 1079.4 L1892.0 1078.6" fill="none" stroke="#0b7d0f" stroke-width="4.0" stroke-linecap="round" stroke-linejoin="round" stroke-dasharray="18.7 20.2 1.8 20.2 1.8 19.8" stroke-dashoffset="20.98"/>
<path d="M1807.6 1107.3 L2000.0 1042.0" fill="none" stroke="#0b7d0f" stroke-width="4.2" stroke-linecap="round"/>
<path d="M1805.4 1077.9 L2367.5 857.8" fill="none" stroke="#000" stroke-width="4.5" stroke-linecap="round"/>
<path d="M1805.4 1077.9 L2121.9 954.0" fill="none" stroke="#000" stroke-width="5.3" stroke-linecap="round"/>
<path d="M1849.0 1012.3 L1898.0 993.6 L1809.9 1027.3 L1892.0 995.9 L1824.1 1021.8 L1858.1 1008.9 L1919.8 985.3 L1848.1 1012.7 L1868.1 1005.0 L1862.1 1007.3 L1815.9 1025.0 L1848.1 1012.7 L1832.3 1018.7 L2121.9 908.2 L1856.3 1009.5 L2366.8 814.7 L1888.0 997.4 L1868.1 1005.0 L1977.9 963.1 L1866.2 1005.8 L1942.0 976.8 L1843.9 1014.3 L1849.9 1012.0 L1849.9 1012.0 L1946.1 975.3 L1845.5 1013.7 L1805.8 1028.8 L1874.0 1002.8 L2016.1 948.6 L1889.8 996.8 L1892.0 995.9" fill="none" stroke="#000" stroke-width="4.0" stroke-linecap="round" stroke-linejoin="round" stroke-dasharray="1.3 17.8" stroke-dashoffset="4.78"/>
<path d="M1809.0 1027.6 L2122.0 908.1" fill="none" stroke="#000" stroke-width="4.2" stroke-linecap="round"/>
<text x="2128.1" y="959.7" font-size="40.2">UDEA</text>
<text x="2304.0" y="994.2" font-size="40.2">UNAL</text>
</g>
<g id="p2010">
<rect x="2513.7" y="686.9" width="704.5" height="71.9" fill="#d9e6eb"/>
<text x="2866.2" y="739.5" font-size="55" text-anchor="middle">2010</text>
<line x1="2513.1" x2="3220.2" y1="812.0" y2="812.0" stroke="#eaf2f3" stroke-width="3.6"/>
<line x1="2513.1" x2="3220.2" y1="958.0" y2="958.0" stroke="#eaf2f3" stroke-width="3.6"/>
<line x1="2513.1" x2="3220.2" y1="1104.0" y2="1104.0" stroke="#eaf2f3" stroke-width="3.6"/>
<line x1="2513.6" x2="3219.7" y1="1175.5" y2="1175.5" stroke="#000" stroke-width="2.1"/>
<line x1="2546.4" x2="2546.4" y1="1175.5" y2="1196.2" stroke="#000" stroke-width="2"/>
<text x="2545.9" y="1250.7" font-size="51.3" text-anchor="middle">0</text>
<line x1="2750.6" x2="2750.6" y1="1175.5" y2="1196.2" stroke="#000" stroke-width="2"/>
<text x="2750.1" y="1250.7" font-size="51.3" text-anchor="middle">2</text>
<line x1="2954.8" x2="2954.8" y1="1175.5" y2="1196.2" stroke="#000" stroke-width="2"/>
<text x="2954.3" y="1250.7" font-size="51.3" text-anchor="middle">4</text>
<line x1="3159.0" x2="3159.0" y1="1175.5" y2="1196.2" stroke="#000" stroke-width="2"/>
<text x="3158.5" y="1250.7" font-size="51.3" text-anchor="middle">6</text>
<path d="M2658.9 833.9h12v12h-12zM2629.0 878.0h12v12h-12zM2647.1 882.0h12v12h-12zM2682.9 888.0h12v12h-12zM2779.1 895.8h12v12h-12zM2611.2 956.1h12v12h-12zM2604.8 969.7h12v12h-12zM2707.4 967.9h12v12h-12zM2701.0 977.9h12v12h-12zM2633.0 989.7h12v12h-12zM2609.0 991.9h12v12h-12zM2617.2 1000.2h12v12h-12zM2745.0 1005.7h12v12h-12zM2603.0 1021.5h12v12h-12zM2609.0 1023.8h12v12h-12zM2648.9 1021.8h12v12h-12zM2583.0 1046.0h12v12h-12zM2599.0 1057.8h12v12h-12zM2611.2 1056.0h12v12h-12zM2624.8 1056.0h12v12h-12zM2644.8 1050.0h12v12h-12zM2564.9 1075.9h12v12h-12zM2652.9 1075.9h12v12h-12zM2560.9 1091.9h12v12h-12zM2589.0 1087.7h12v12h-12zM2604.8 1081.8h12v12h-12zM2609.0 1084.1h12v12h-12zM2601.2 1094.1h12v12h-12zM2629.0 1095.9h12v12h-12zM2573.0 1109.9h12v12h-12zM2885.1 926.6h12v12h-12zM3119.2 911.6h12v12h-12z" fill="#000"/>
<path d="M2658.9 1076.5 L2615.0 1091.3 L2566.9 1107.5 L2688.9 1066.4 L2589.0 1100.0 L2609.0 1093.3 L2891.1 998.2 L2654.9 1077.8 L2650.8 1079.2 L2639.0 1083.2 L2623.2 1088.5 L2664.9 1074.5 L2610.8 1092.7 L2617.2 1090.5 L2707.0 1060.3 L3125.2 919.3 L2635.0 1084.5 L2630.8 1086.0 L2751.0 1045.4 L2595.0 1098.0 L2615.0 1091.3 L2610.8 1092.7 L2607.2 1093.9 L2579.0 1103.4 L2653.1 1078.4 L2635.0 1084.5 L2713.4 1058.1 L2785.1 1033.9 L2617.2 1090.5 L2605.0 1094.7 L2615.0 1091.3 L2570.9 1106.1" fill="none" stroke="#0b7d0f" stroke-width="4.0" stroke-linecap="round" stroke-linejoin="round" stroke-dasharray="18.7 20.2 1.8 20.2 1.8 19.8" stroke-dashoffset="11.15"/>
<path d="M2566.3 1107.7 L2850.0 1012.1" fill="none" stroke="#0b7d0f" stroke-width="4.2" stroke-linecap="round"/>
<path d="M2566.3 1078.3 L3126.1 859.0" fill="none" stroke="#000" stroke-width="4.5" stroke-linecap="round"/>
<path d="M2566.3 1078.3 L2891.1 951.1" fill="none" stroke="#000" stroke-width="5.3" stroke-linecap="round"/>
<path d="M2658.9 992.6 L2615.0 1009.3 L2566.9 1027.6 L2688.9 981.2 L2589.0 1019.2 L2609.0 1011.6 L2891.1 904.4 L2654.9 994.1 L2650.8 995.7 L2639.0 1000.2 L2623.2 1006.2 L2664.9 990.3 L2610.8 1010.9 L2617.2 1008.5 L2707.0 974.3 L3125.2 815.5 L2635.0 1001.7 L2630.8 1003.3 L2751.0 957.6 L2595.0 1016.9 L2615.0 1009.3 L2610.8 1010.9 L2607.2 1012.2 L2579.0 1023.0 L2653.1 994.8 L2635.0 1001.7 L2713.4 971.9 L2785.1 944.7 L2617.2 1008.5 L2605.0 1013.1 L2615.0 1009.3 L2570.9 1026.0" fill="none" stroke="#000" stroke-width="4.0" stroke-linecap="round" stroke-linejoin="round" stroke-dasharray="1.3 17.8" stroke-dashoffset="8.31"/>
<path d="M2568.1 1027.1 L2891.0 904.5" fill="none" stroke="#000" stroke-width="4.2" stroke-linecap="round"/>
<text x="2895.0" y="953.8" font-size="40.2">UDEA</text>
<text x="3075.5" y="986.6" font-size="40.2">UNAL</text>
</g>
<g id="p2011">
<rect x="232.1" y="1321.9" width="704.5" height="73.7" fill="#d9e6eb"/>
<text x="584.5" y="1374.5" font-size="55" text-anchor="middle">2011</text>
<line x1="233.8" x2="938.6" y1="1447.0" y2="1447.0" stroke="#eaf2f3" stroke-width="3.6"/>
<line x1="233.8" x2="938.6" y1="1593.0" y2="1593.0" stroke="#eaf2f3" stroke-width="3.6"/>
<line x1="233.8" x2="938.6" y1="1739.0" y2="1739.0" stroke="#eaf2f3" stroke-width="3.6"/>
<line x1="233.1" x2="233.1" y1="1395.6" y2="1812.0" stroke="#000" stroke-width="2.1"/>
<line x1="212.1" x2="232.3" y1="1447.0" y2="1447.0" stroke="#000" stroke-width="2"/>
<text transform="translate(190.0,1445.9) rotate(-90)" font-size="50.5" text-anchor="middle">.006</text>
<line x1="212.1" x2="232.3" y1="1593.0" y2="1593.0" stroke="#000" stroke-width="2"/>
<text transform="translate(190.0,1591.9) rotate(-90)" font-size="50.5" text-anchor="middle">.004</text>
<line x1="212.1" x2="232.3" y1="1739.0" y2="1739.0" stroke="#000" stroke-width="2"/>
<text transform="translate(190.0,1737.9) rotate(-90)" font-size="50.5" text-anchor="middle">.002</text>
<line x1="232.0" x2="938.1" y1="1811.0" y2="1811.0" stroke="#000" stroke-width="2.1"/>
<line x1="264.8" x2="264.8" y1="1811.0" y2="1831.7" stroke="#000" stroke-width="2"/>
<text x="264.3" y="1886.9" font-size="51.3" text-anchor="middle">0</text>
<line x1="469.0" x2="469.0" y1="1811.0" y2="1831.7" stroke="#000" stroke-width="2"/>
<text x="468.5" y="1886.9" font-size="51.3" text-anchor="middle">2</text>
<line x1="673.2" x2="673.2" y1="1811.0" y2="1831.7" stroke="#000" stroke-width="2"/>
<text x="672.7" y="1886.9" font-size="51.3" text-anchor="middle">4</text>
<line x1="877.4" x2="877.4" y1="1811.0" y2="1831.7" stroke="#000" stroke-width="2"/>
<text x="876.9" y="1886.9" font-size="51.3" text-anchor="middle">6</text>
<path d="M385.1 1457.1h12v12h-12zM363.2 1500.9h12v12h-12zM366.9 1505.0h12v12h-12zM422.8 1513.1h12v12h-12zM537.1 1519.1h12v12h-12zM341.0 1581.0h12v12h-12zM322.8 1595.1h12v12h-12zM509.0 1593.2h12v12h-12zM431.1 1605.0h12v12h-12zM355.1 1617.0h12v12h-12zM336.9 1618.9h12v12h-12zM328.8 1628.8h12v12h-12zM507.1 1633.2h12v12h-12zM324.1 1649.5h12v12h-12zM365.0 1648.9h12v12h-12zM296.9 1674.8h12v12h-12zM317.2 1685.1h12v12h-12zM328.8 1685.1h12v12h-12zM351.0 1685.1h12v12h-12zM365.0 1678.6h12v12h-12zM282.8 1704.8h12v12h-12zM381.0 1704.8h12v12h-12zM276.8 1720.8h12v12h-12zM313.1 1717.0h12v12h-12zM332.8 1710.8h12v12h-12zM320.9 1724.5h12v12h-12zM349.1 1726.8h12v12h-12zM294.7 1740.9h12v12h-12zM595.2 1551.1h12v12h-12zM876.9 1537.3h12v12h-12z" fill="#000"/>
<path d="M282.8 1742.4 L428.8 1692.8 L372.9 1711.8 L319.1 1730.1 L515.0 1663.5 L330.1 1726.3 L342.9 1722.0 L369.2 1713.0 L323.2 1728.7 L601.2 1634.2 L543.1 1653.9 L338.8 1723.4 L513.1 1664.1 L355.1 1717.8 L882.9 1538.4 L334.8 1724.7 L387.0 1707.0 L326.9 1727.4 L361.1 1715.8 L357.0 1717.2 L437.1 1689.9 L371.0 1712.4 L328.8 1726.8 L300.7 1736.3 L391.1 1705.6 L371.0 1712.4 L334.8 1724.7 L288.8 1740.4 L302.9 1735.6 L347.0 1720.6" fill="none" stroke="#0b7d0f" stroke-width="4.0" stroke-linecap="round" stroke-linejoin="round" stroke-dasharray="18.7 20.2 1.8 20.2 1.8 19.8" stroke-dashoffset="10.49"/>
<path d="M281.9 1742.7 L540.0 1655.0" fill="none" stroke="#0b7d0f" stroke-width="4.2" stroke-linecap="round"/>
<path d="M282.8 1712.7 L883.6 1479.3" fill="none" stroke="#000" stroke-width="4.5" stroke-linecap="round"/>
<path d="M282.8 1712.7 L601.2 1589.0" fill="none" stroke="#000" stroke-width="5.3" stroke-linecap="round"/>
<path d="M282.8 1664.9 L428.8 1609.2 L372.9 1630.5 L319.1 1651.1 L515.0 1576.3 L330.1 1646.9 L342.9 1642.0 L369.2 1631.9 L323.2 1649.5 L601.2 1543.5 L543.1 1565.6 L338.8 1643.5 L513.1 1577.1 L355.1 1637.3 L882.9 1436.0 L334.8 1645.1 L387.0 1625.2 L326.9 1648.1 L361.1 1635.0 L357.0 1636.6 L437.1 1606.0 L371.0 1631.3 L328.8 1647.4 L300.7 1658.1 L391.1 1623.6 L371.0 1631.3 L334.8 1645.1 L288.8 1662.6 L302.9 1657.2 L347.0 1640.4" fill="none" stroke="#000" stroke-width="4.0" stroke-linecap="round" stroke-linejoin="round" stroke-dasharray="1.3 17.8" stroke-dashoffset="3.81"/>
<path d="M282.8 1664.9 L520.0 1574.4" fill="none" stroke="#000" stroke-width="4.2" stroke-linecap="round"/>
<text x="608.5" y="1582.2" font-size="40.2">UDEA</text>
<text x="821.3" y="1600.6" font-size="40.2">UNAL</text>
</g>
<g id="p2012">
<rect x="992.2" y="1321.9" width="704.5" height="73.7" fill="#d9e6eb"/>
<text x="1344.7" y="1374.5" font-size="55" text-anchor="middle">2012</text>
<line x1="991.6" x2="1698.7" y1="1447.0" y2="1447.0" stroke="#eaf2f3" stroke-width="3.6"/>
<line x1="991.6" x2="1698.7" y1="1593.0" y2="1593.0" stroke="#eaf2f3" stroke-width="3.6"/>
<line x1="991.6" x2="1698.7" y1="1739.0" y2="1739.0" stroke="#eaf2f3" stroke-width="3.6"/>
<line x1="992.1" x2="1698.2" y1="1811.0" y2="1811.0" stroke="#000" stroke-width="2.1"/>
<line x1="1024.8" x2="1024.8" y1="1811.0" y2="1831.7" stroke="#000" stroke-width="2"/>
<text x="1024.3" y="1886.9" font-size="51.3" text-anchor="middle">0</text>
<line x1="1229.0" x2="1229.0" y1="1811.0" y2="1831.7" stroke="#000" stroke-width="2"/>
<text x="1228.5" y="1886.9" font-size="51.3" text-anchor="middle">2</text>
<line x1="1433.2" x2="1433.2" y1="1811.0" y2="1831.7" stroke="#000" stroke-width="2"/>
<text x="1432.7" y="1886.9" font-size="51.3" text-anchor="middle">4</text>
<line x1="1637.4" x2="1637.4" y1="1811.0" y2="1831.7" stroke="#000" stroke-width="2"/>
<text x="1636.9" y="1886.9" font-size="51.3" text-anchor="middle">6</text>
<path d="M1145.2 1445.0h12v12h-12zM1121.3 1494.9h12v12h-12zM1129.3 1490.9h12v12h-12zM1183.8 1500.9h12v12h-12zM1312.0 1508.9h12v12h-12zM1098.9 1572.8h12v12h-12zM1092.9 1586.8h12v12h-12zM1275.7 1584.8h12v12h-12zM1200.4 1596.8h12v12h-12zM1114.9 1608.8h12v12h-12zM1110.9 1610.8h12v12h-12zM1090.9 1620.8h12v12h-12zM1280.1 1624.8h12v12h-12zM1089.9 1640.7h12v12h-12zM1091.5 1644.7h12v12h-12zM1132.8 1642.7h12v12h-12zM1064.9 1668.7h12v12h-12zM1074.9 1678.7h12v12h-12zM1090.9 1678.7h12v12h-12zM1116.9 1676.7h12v12h-12zM1148.8 1670.7h12v12h-12zM1046.9 1698.7h12v12h-12zM1148.8 1698.7h12v12h-12zM1041.0 1716.7h12v12h-12zM1078.9 1710.7h12v12h-12zM1100.9 1705.7h12v12h-12zM1084.9 1718.7h12v12h-12zM1112.9 1720.7h12v12h-12zM1054.9 1734.6h12v12h-12zM1363.9 1541.2h12v12h-12zM1659.9 1526.9h12v12h-12z" fill="#000"/>
<path d="M1047.0 1740.3 L1052.9 1738.3 L1060.9 1735.6 L1070.9 1732.2 L1080.9 1728.9 L1084.9 1727.5 L1090.9 1725.5 L1095.9 1723.8 L1096.9 1723.5 L1096.9 1723.5 L1097.5 1723.3 L1098.9 1722.8 L1104.9 1720.8 L1106.9 1720.2 L1116.9 1716.8 L1118.9 1716.1 L1120.9 1715.5 L1122.9 1714.8 L1127.3 1713.3 L1135.3 1710.6 L1138.8 1709.4 L1151.2 1705.3 L1154.8 1704.1 L1154.8 1704.1 L1189.8 1692.3 L1206.4 1686.8 L1281.7 1661.5 L1286.1 1660.0 L1318.0 1649.3 L1369.9 1631.9 L1665.9 1532.5" fill="none" stroke="#0b7d0f" stroke-width="4.0" stroke-linecap="round" stroke-linejoin="round" stroke-dasharray="18.7 20.2 1.8 20.2 1.8 19.8" stroke-dashoffset="18.51"/>
<path d="M1047.0 1711.3 L1282.7 1618.6 L1667.1 1471.3" fill="none" stroke="#000" stroke-width="4" stroke-linecap="round" stroke-linejoin="round"/>
<path d="M1047.0 1663.1 L1052.9 1660.8 L1060.9 1657.8 L1070.9 1654.0 L1080.9 1650.2 L1084.9 1648.6 L1090.9 1646.3 L1095.9 1644.4 L1096.9 1644.0 L1096.9 1644.0 L1097.5 1643.8 L1098.9 1643.3 L1104.9 1641.0 L1106.9 1640.2 L1116.9 1636.4 L1118.9 1635.7 L1120.9 1634.9 L1122.9 1634.1 L1127.3 1632.5 L1135.3 1629.4 L1138.8 1628.1 L1151.2 1623.3 L1154.8 1622.0 L1154.8 1622.0 L1189.8 1608.6 L1206.4 1602.3 L1281.7 1573.6 L1286.1 1571.9 L1318.0 1559.7 L1369.9 1539.9 L1665.9 1427.0" fill="none" stroke="#000" stroke-width="4.0" stroke-linecap="round" stroke-linejoin="round" stroke-dasharray="1.3 17.8" stroke-dashoffset="8.25"/>
<text x="1376.6" y="1574.8" font-size="40.2">UDEA</text>
<text x="1597.4" y="1596.6" font-size="40.2">UNAL</text>
</g>
<text x="1680.5" y="1992.8" font-size="83.3" letter-spacing="0.75" text-anchor="middle">Índice de Capacidad</text>
<rect x="432.9" y="2043.2" width="2494.7" height="269.7" fill="#fff" stroke="#000" stroke-width="4.2"/>
<rect x="616.3" y="2114.0" width="13.6" height="13.6" fill="#000" stroke="#000" stroke-width="6.8" stroke-linejoin="round"/>
<text x="828.7" y="2150.3" font-size="83" letter-spacing="0.58">Eficiencia Técnica</text>
<line x1="467.5" x2="778.9" y1="2236.7" y2="2236.7" stroke="#000" stroke-width="8.5" stroke-linecap="round"/>
<text x="828.9" y="2266.3" font-size="83" letter-spacing="0.6">Predicción Lineal Q2</text>
<line x1="1739.9" x2="2045.4" y1="2120.8" y2="2120.8" stroke="#0b7d0f" stroke-width="8" stroke-linecap="round" stroke-dasharray="18.2 20.3 1 21 1 20"/>
<text x="2099" y="2150.3" font-size="83" letter-spacing="0.7">Predicción Lineal Q1</text>
<line x1="1740.5" x2="2047.6" y1="2236.7" y2="2236.7" stroke="#000" stroke-width="8" stroke-linecap="round" stroke-dasharray="1 18.13"/>
<text x="2099" y="2266.3" font-size="83" letter-spacing="0.7">Predicción Lineal Q3</text>
</svg></body></html>
